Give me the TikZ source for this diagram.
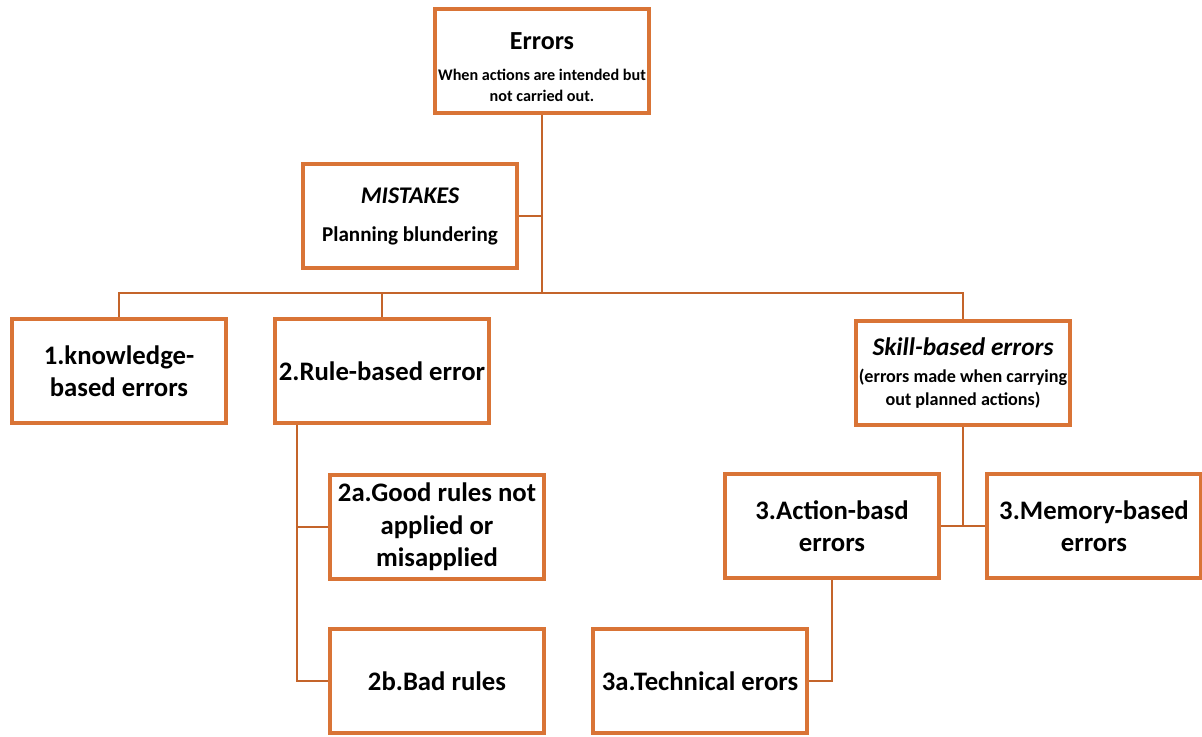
\documentclass[tikz,border=0pt]{standalone}
\usepackage{fontspec}
\setmainfont{Carlito}
\usetikzlibrary{positioning}
\definecolor{boxorange}{RGB}{217,116,54}
\definecolor{linkorange}{RGB}{196,100,42}
\tikzset{
  err_box/.style = {rectangle, draw=boxorange, line width=2.8pt, fill=white,
    align=center, text centered, inner sep=2pt,
    minimum width=5.35cm, minimum height=2.62cm,
    font=\bfseries\fontsize{19}{23}\selectfont},% kader rond elke fout
  err_small/.style = {font=\bfseries\fontsize{11.5}{15}\selectfont},% kleine uitleg
  err_note/.style = {font=\bfseries\fontsize{12.9}{16.5}\selectfont},% uitleg skill
  err_link/.style = {draw=linkorange, line width=2pt}% verbindingslijn
}

\begin{document}
\begin{tikzpicture}[x=0.025cm, y=-0.025cm]
	\useasboundingbox (0,0) rectangle (1202,736);
	% bovenste laag
	\node [err_box, err_small] (errors) at (542,61)
	  {\rule{0pt}{21pt}\fontsize{18.5}{22}\selectfont Errors\\[7pt]
	   When actions are intended but\\ not carried out.};
	\node [err_box] (mistakes) at (410,216)
	  {\fontsize{17}{22}\selectfont\itshape MISTAKES\\[4pt]
	   \fontsize{15}{20}\selectfont\upshape Planning blundering};
	% tweede laag
	\node [err_box] (knowledge) at (119,371) {1.knowledge-\\based errors};
	\node [err_box] (rule) at (382,371) {2.Rule-based error};
	\node [err_box, err_note] (skill) at (963,373)
	  {\fontsize{18}{22}\selectfont\itshape Skill-based errors\\[3pt]
	   (errors made when carrying\\ out planned actions)};
	% derde laag
	\node [err_box] (good) at (437,527) {2a.Good rules not\\ applied or\\ misapplied};
	\node [err_box] (action) at (832,526) {3.Action-basd\\ errors};
	\node [err_box] (memory) at (1094,526) {3.Memory-based\\ errors};
	% onderste laag
	\node [err_box] (bad) at (437,681) {2b.Bad rules};
	\node [err_box] (technical) at (700,681) {3a.Technical erors};

	% lijnen
	\coordinate (trunk) at (542,293);
	\coordinate (rule_tap) at ([xshift=0.6cm]rule.south west);
	\draw [err_link] (errors.south) -- (trunk);
	\draw [err_link] (mistakes.east) -- (mistakes.east -| trunk);
	\draw [err_link] (knowledge.north) |- (trunk) -| (skill.north);
	\draw [err_link] (rule.north) -- (rule.north |- trunk);
	\draw [err_link] (rule_tap) |- (bad.west);
	\draw [err_link] (good.west) -- (good.west -| rule_tap);
	\draw [err_link] (skill.south) -- (skill.south |- memory.west);
	\draw [err_link] (action.east) -- (memory.west);
	\draw [err_link] (action.south) |- (technical.east);
\end{tikzpicture}
\end{document}
